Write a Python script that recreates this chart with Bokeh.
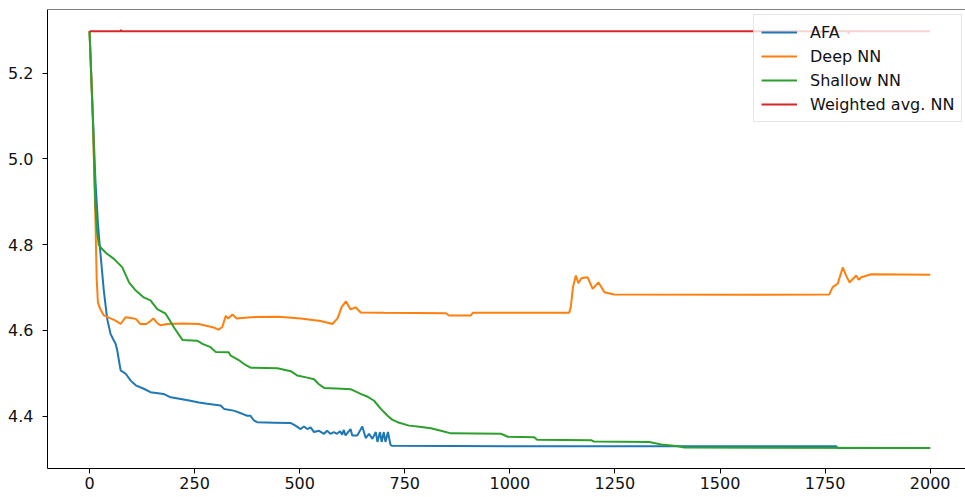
from bokeh.plotting import figure
from bokeh.models import (Range1d, FixedTicker, PrintfTickFormatter, Span,
                          Legend, LegendItem, ColumnDataSource)
from bokeh.embed import file_html
from bokeh.resources import INLINE

# ---------------- data ----------------
afa_x = [0, 8, 14, 20, 25, 34, 42, 50, 56, 62, 66, 70, 74, 86, 98, 110, 129, 145,
         176, 193, 217, 240, 260, 280, 312, 320, 343, 365, 375, 383, 391, 399, 440,
         479, 490, 502, 510, 518, 526, 534, 546, 558, 565, 573, 581, 589, 596, 601,
         605, 609, 621, 625, 637, 649, 657, 665, 673, 681, 685, 691, 695, 700, 704,
         710, 716, 720, 1000, 1776, 1780, 2000]
afa_y = [5.298, 5.10, 4.95, 4.85, 4.79, 4.693, 4.627, 4.592, 4.58, 4.569, 4.553, 4.530,
         4.507, 4.499, 4.483, 4.472, 4.464, 4.456, 4.452, 4.444, 4.440, 4.436, 4.432,
         4.429, 4.425, 4.417, 4.413, 4.405, 4.401, 4.401, 4.390, 4.386, 4.385, 4.384,
         4.378, 4.370, 4.376, 4.370, 4.374, 4.363, 4.366, 4.359, 4.366, 4.359, 4.363,
         4.359, 4.365, 4.357, 4.368, 4.355, 4.370, 4.355, 4.355, 4.376, 4.349, 4.359,
         4.347, 4.363, 4.340, 4.363, 4.340, 4.363, 4.340, 4.363, 4.333, 4.331, 4.330,
         4.330, 4.326, 4.326]

deep_x = [0, 8, 14, 17, 20, 25, 34, 50, 62, 74, 86, 98, 110, 121, 135, 145, 152, 160,
          169, 185, 220, 260, 295, 307, 316, 324, 330, 340, 350, 383, 450, 502, 550,
          578, 590, 600, 610, 621, 633, 645, 700, 848, 855, 907, 912, 1141, 1145, 1150,
          1157, 1163, 1170, 1185, 1197, 1211, 1225, 1248, 1574, 1760, 1768, 1780, 1792,
          1800, 1808, 1816, 1824, 1830, 1836, 1860, 2000]
deep_y = [5.298, 5.09, 4.86, 4.72, 4.665, 4.651, 4.635, 4.628, 4.623, 4.615, 4.631,
          4.629, 4.627, 4.615, 4.615, 4.622, 4.628, 4.618, 4.612, 4.615, 4.616, 4.615,
          4.607, 4.602, 4.608, 4.634, 4.628, 4.637, 4.628, 4.631, 4.632, 4.628, 4.622,
          4.615, 4.628, 4.655, 4.668, 4.649, 4.654, 4.642, 4.641, 4.640, 4.635, 4.635,
          4.641, 4.641, 4.655, 4.700, 4.728, 4.710, 4.722, 4.724, 4.697, 4.712, 4.689,
          4.684, 4.683, 4.684, 4.701, 4.709, 4.747, 4.728, 4.712, 4.720, 4.728, 4.718,
          4.724, 4.731, 4.730]

shallow_x = [0, 8, 14, 18, 22, 26, 40, 58, 78, 94, 110, 129, 145, 161, 181, 190, 201,
             221, 256, 270, 288, 300, 331, 336, 355, 370, 383, 447, 479, 494, 518, 534,
             545, 558, 600, 621, 645, 660, 677, 693, 709, 720, 733, 760, 780, 812, 836,
             860, 979, 995, 1058, 1065, 1193, 1200, 1332, 1360, 1400, 1415, 2000]
shallow_y = [5.298, 5.09, 4.89, 4.83, 4.80, 4.794, 4.78, 4.767, 4.747, 4.712, 4.693,
             4.677, 4.670, 4.650, 4.639, 4.625, 4.607, 4.578, 4.576, 4.568, 4.561, 4.550,
             4.549, 4.541, 4.531, 4.520, 4.513, 4.512, 4.505, 4.495, 4.490, 4.486, 4.475,
             4.466, 4.464, 4.463, 4.452, 4.446, 4.436, 4.417, 4.401, 4.392, 4.386, 4.378,
             4.376, 4.372, 4.366, 4.360, 4.359, 4.352, 4.351, 4.345, 4.344, 4.341, 4.340,
             4.334, 4.330, 4.327, 4.326]

wavg_x = [0, 74, 75, 76, 1805, 1806, 1807, 2000]
wavg_y = [5.298, 5.298, 5.301, 5.298, 5.298, 5.292, 5.298, 5.298]

series_names = ["AFA", "Deep NN", "Shallow NN", "Weighted avg. NN"]
series_colors = ["#1f77b4", "#ff7f0e", "#2ca02c", "#d62728"]

x_ticks = [0, 250, 500, 750, 1000, 1250, 1500, 1750, 2000]
y_ticks = [4.4, 4.6, 4.8, 5.0, 5.2]

# ---------------- figure ----------------
FONT = "DejaVu Sans"
FS = "16px"
y_start, y_end = 4.278, 5.3486
p = figure(width=965, height=497, output_backend="svg", toolbar_location=None,
           x_range=Range1d(-100, 2084), y_range=Range1d(y_start, y_end),
           min_border_left=47, min_border_right=0, min_border_top=9,
           min_border_bottom=29)
p.outline_line_color = None
p.background_fill_color = "white"
p.border_fill_color = "white"
p.xgrid.visible = False
p.ygrid.visible = False

renderers = []
for xs, ys, c in zip([afa_x, deep_x, shallow_x, wavg_x],
                     [afa_y, deep_y, shallow_y, wavg_y], series_colors):
    src = ColumnDataSource(dict(x=xs, y=ys))
    r = p.line("x", "y", source=src, line_color=c, line_width=2)
    renderers.append(r)

p.add_layout(Span(location=y_end, dimension="width", line_color="black",
                  line_width=1))

for ax in (p.xaxis[0], p.yaxis[0]):
    ax.axis_line_color = "black"
    ax.axis_line_width = 1
    ax.major_tick_line_color = "black"
    ax.major_tick_in = 0
    ax.major_tick_out = 5
    ax.minor_tick_line_color = None
    ax.major_label_text_font = FONT
    ax.major_label_text_font_size = FS
    ax.major_label_text_color = "#111111"

p.xaxis[0].ticker = FixedTicker(ticks=x_ticks)
p.xaxis[0].formatter = PrintfTickFormatter(format="%d")
p.xaxis[0].major_label_standoff = 3
p.yaxis[0].ticker = FixedTicker(ticks=y_ticks)
p.yaxis[0].formatter = PrintfTickFormatter(format="%.1f")
p.yaxis[0].major_label_standoff = 9

items = [LegendItem(label=n, renderers=[r]) for n, r in zip(series_names, renderers)]
legend = Legend(items=items, location=(706, 346), padding=7, spacing=4,
                glyph_width=36, glyph_height=20, label_height=20,
                label_standoff=13, label_text_font=FONT,
                label_text_font_size=FS, label_text_color="#111111",
                border_line_color="#cccccc", border_line_width=1,
                background_fill_color="white", background_fill_alpha=0.8,
                margin=0)
p.add_layout(legend)

open("out.html", "w").write(file_html(p, INLINE))
